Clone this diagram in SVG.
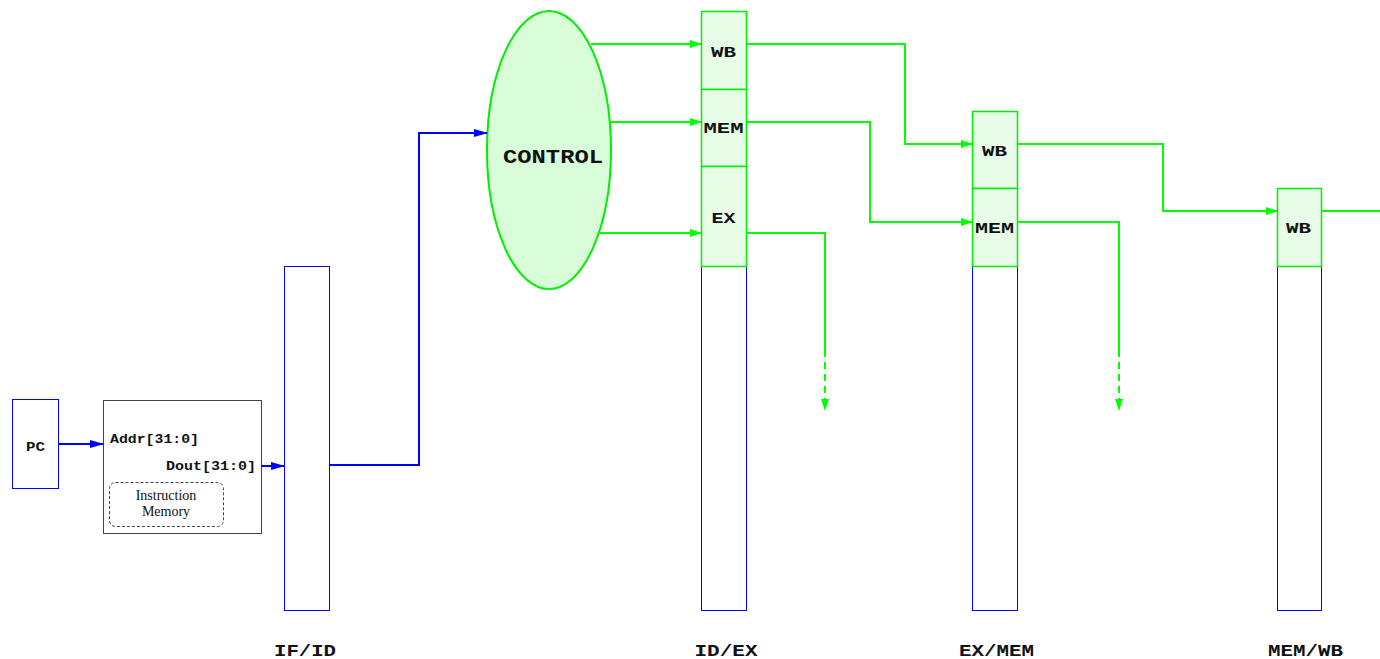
<svg xmlns="http://www.w3.org/2000/svg" width="1380" height="659" viewBox="0 0 1380 659">
<style>
.blk{fill:#fff;stroke:#0000ff;stroke-width:1}
.seg{fill:#e8fde8;stroke:#00ee00;stroke-width:1.5}
.mono{font-family:"Liberation Mono","Courier New",monospace;font-weight:bold;fill:#111}
.lab{text-anchor:middle;lengthAdjust:spacingAndGlyphs}
.gw{fill:none;stroke:#00ff00;stroke-width:2}
.bw{fill:none;stroke:#0000ff;stroke-width:2}
</style>
<defs>
<marker id="ag" markerWidth="12" markerHeight="8" refX="11" refY="4" orient="auto" markerUnits="userSpaceOnUse"><path d="M0,0 L12,4 L0,8 z" fill="#00ff00"/></marker>
<marker id="ab" markerWidth="14" markerHeight="8" refX="13" refY="4" orient="auto" markerUnits="userSpaceOnUse"><path d="M0,0 L14,4 L0,8 z" fill="#0000ff"/></marker>
</defs>
<rect width="1380" height="659" fill="#fff"/>

<g id="pc">
<rect x="12.5" y="399.5" width="46" height="89" class="blk"/>
<text x="35.5" y="451" class="mono lab" font-size="12" textLength="19" lengthAdjust="spacingAndGlyphs">PC</text>
</g>

<g id="imem">
<rect x="103.5" y="400.5" width="158" height="133" fill="#fff" stroke="#444" stroke-width="1"/>
<text x="110" y="443" class="mono" font-size="13" textLength="89" lengthAdjust="spacingAndGlyphs">Addr[31:0]</text>
<text x="166" y="470" class="mono" font-size="13" textLength="90" lengthAdjust="spacingAndGlyphs">Dout[31:0]</text>
<rect x="109.5" y="482.5" width="114" height="44" rx="6" fill="none" stroke="#444" stroke-width="1" stroke-dasharray="3,2"/>
<text x="166" y="500" font-family="Liberation Serif,serif" font-size="14" text-anchor="middle" fill="#111">Instruction</text>
<text x="166" y="516" font-family="Liberation Serif,serif" font-size="14" text-anchor="middle" fill="#111">Memory</text>
</g>

<g id="ifid">
<rect x="284.5" y="266.5" width="45" height="344" class="blk"/>
<text x="305" y="656" class="mono lab" font-size="17" textLength="62" lengthAdjust="spacingAndGlyphs">IF/ID</text>
</g>

<g id="control">
<ellipse cx="549" cy="150" rx="62" ry="139" fill="#d8fdd8" stroke="#00ee00" stroke-width="2"/>
<text x="553" y="163" class="mono lab" font-size="21" textLength="100" lengthAdjust="spacingAndGlyphs">CONTROL</text>
</g>

<g id="idex">
<rect x="701.5" y="266.5" width="45" height="344" class="blk"/>
<rect x="701.5" y="11.5" width="45" height="78" class="seg"/>
<rect x="701.5" y="89.5" width="45" height="77" class="seg"/>
<rect x="701.5" y="166.5" width="45" height="100" class="seg"/>
<text x="723.5" y="57" class="mono lab" font-size="15" textLength="25" lengthAdjust="spacingAndGlyphs">WB</text>
<text x="723.5" y="133" class="mono lab" font-size="15" textLength="40" lengthAdjust="spacingAndGlyphs">MEM</text>
<text x="723.5" y="223" class="mono lab" font-size="15" textLength="24" lengthAdjust="spacingAndGlyphs">EX</text>
<text x="726" y="656" class="mono lab" font-size="17" textLength="63" lengthAdjust="spacingAndGlyphs">ID/EX</text>
</g>

<g id="exmem">
<rect x="972.5" y="266.5" width="45" height="344" class="blk"/>
<rect x="972.5" y="111.5" width="45" height="77" class="seg"/>
<rect x="972.5" y="188.5" width="45" height="78" class="seg"/>
<text x="994.5" y="156" class="mono lab" font-size="15" textLength="25" lengthAdjust="spacingAndGlyphs">WB</text>
<text x="994.5" y="233" class="mono lab" font-size="15" textLength="39" lengthAdjust="spacingAndGlyphs">MEM</text>
<text x="996.5" y="656" class="mono lab" font-size="17" textLength="75" lengthAdjust="spacingAndGlyphs">EX/MEM</text>
</g>

<g id="memwb">
<rect x="1277.5" y="266.5" width="44" height="344" class="blk"/>
<rect x="1277.5" y="188.5" width="44" height="78" class="seg"/>
<text x="1298.5" y="233" class="mono lab" font-size="15" textLength="25" lengthAdjust="spacingAndGlyphs">WB</text>
<text x="1305.5" y="656" class="mono lab" font-size="17" textLength="75" lengthAdjust="spacingAndGlyphs">MEM/WB</text>
</g>

<g id="connectors">
<path d="M58,444 H103" class="bw" marker-end="url(#ab)"/>
<path d="M261,466 H284" class="bw" marker-end="url(#ab)"/>
<path d="M329,465 H419 V133 H487" class="bw" marker-end="url(#ab)"/>
<path d="M591,44 H701" class="gw" marker-end="url(#ag)"/>
<path d="M611,122 H701" class="gw" marker-end="url(#ag)"/>
<path d="M599,233 H701" class="gw" marker-end="url(#ag)"/>
<path d="M746,44 H905 V144 H972" class="gw" marker-end="url(#ag)"/>
<path d="M746,122 H870 V222 H972" class="gw" marker-end="url(#ag)"/>
<path d="M746,233 H825 V350" class="gw"/>
<path d="M825,350 V410" class="gw" stroke-dasharray="7,5" marker-end="url(#ag)"/>
<path d="M1017,144 H1163 V211 H1277" class="gw" marker-end="url(#ag)"/>
<path d="M1017,222 H1119 V350" class="gw"/>
<path d="M1119,350 V410" class="gw" stroke-dasharray="7,5" marker-end="url(#ag)"/>
<path d="M1321,211 H1380" class="gw"/>
</g>
</svg>
